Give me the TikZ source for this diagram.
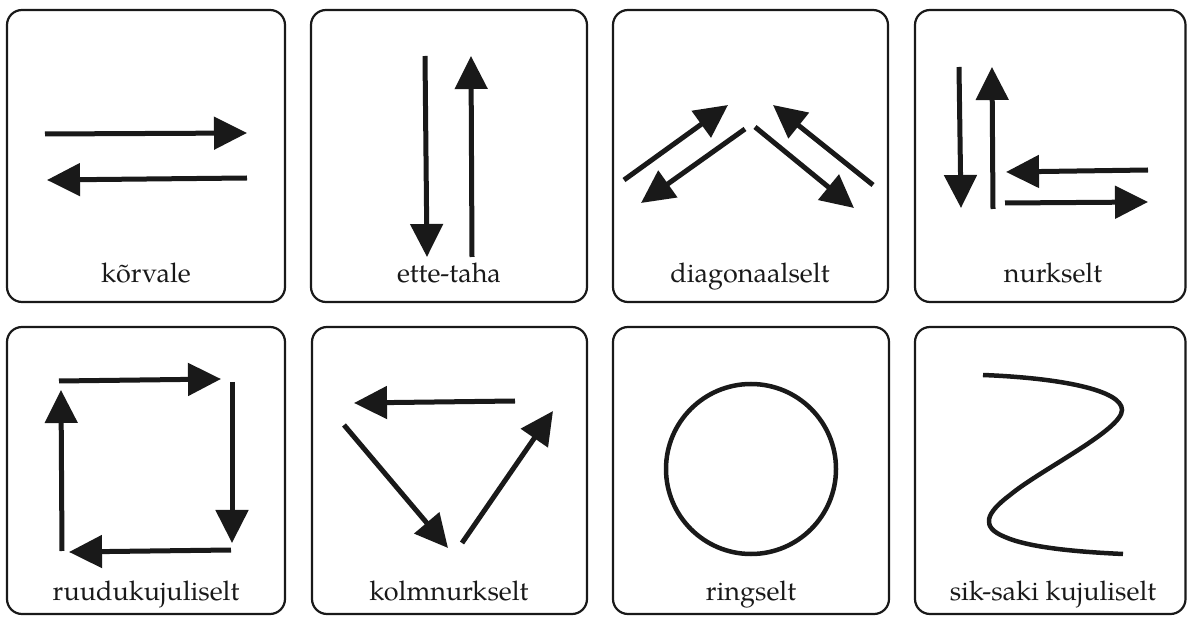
\documentclass[tikz,border=0pt]{standalone}
\usepackage{fontspec}
\setmainfont{TeX Gyre Pagella}
\usetikzlibrary{arrows.meta}
\begin{document}
\begin{tikzpicture}[x=1pt,y=-1pt,
  panel/.style={draw=black!90,line width=2.2pt,rounded corners=15pt},
  arr/.style={line width=5pt,color=black!90,-{Triangle[length=33pt,width=32pt]}},
  lbl/.style={anchor=base,font=\fontsize{27}{31}\selectfont,text=black!90,inner sep=0pt}]
\useasboundingbox (0,0) rectangle (1187,617);
% panels
\draw[panel] (7,10) rectangle (285,302);
\draw[panel] (311,10) rectangle (587,302);
\draw[panel] (613,10) rectangle (888,302);
\draw[panel] (915,10) rectangle (1185.5,302);
\draw[panel] (7,327) rectangle (285,614);
\draw[panel] (312,327) rectangle (587,614);
\draw[panel] (613,327) rectangle (889,614);
\draw[panel] (915,327) rectangle (1185.5,614);
% labels
\node[lbl] (l1) at (146,283) {kõrvale};
\node[lbl] (l2) at (449,283) {ette-taha};
\node[lbl] (l3) at (750,283) {diagonaalselt};
\node[lbl] (l4) at (1053,283) {nurkselt};
\node[lbl] (l5) at (146,600) {ruudukujuliselt};
\node[lbl] (l6) at (449,600) {kolmnurkselt};
\node[lbl] (l7) at (751,600) {ringselt};
\node[lbl] (l8) at (1053,600) {sik-saki kujuliselt};
% 1 korvale
\draw[arr] (45,134) -- (247,133);
\draw[arr] (247,178) -- (47,180);
% 2 ette-taha
\draw[arr] (425,56) -- (427,257);
\draw[arr] (472,257) -- (471,56);
% 3 diagonaalselt
\draw[arr] (624,180) -- (728,105);
\draw[arr] (745,129) -- (641,203);
\draw[arr] (755,127) -- (854,208);
\draw[arr] (873,185) -- (773,105);
% 4 nurkselt
\draw[arr] (959,67) -- (961,208);
\draw[arr] (993,209) -- (992,67);
\draw[arr] (1148,170) -- (1006,172);
\draw[arr] (1005,203) -- (1148,202);
% 5 ruudukujuliselt
\draw[arr] (59,381) -- (221,379);
\draw[arr] (232,382) -- (232,543);
\draw[arr] (231,550) -- (69,552);
\draw[arr] (62,551) -- (61,390);
% 6 kolmnurkselt
\draw[arr] (515,401) -- (354,403);
\draw[arr] (344,425) -- (448,548);
\draw[arr] (462,543) -- (553,411);
% 7 ringselt
\draw[line width=4.5pt,color=black!90] (751,469) circle (85);
% 8 sik-saki
\draw[line width=4.5pt,color=black!90]
  (983,375) .. controls (1060,378) and (1122,390) .. (1122,410)
  .. controls (1122,430) and (1040,470) .. (1010,495)
  .. controls (986,513) and (980,527) .. (1005,537)
  .. controls (1030,548) and (1080,552) .. (1123,554);
\end{tikzpicture}
\end{document}
